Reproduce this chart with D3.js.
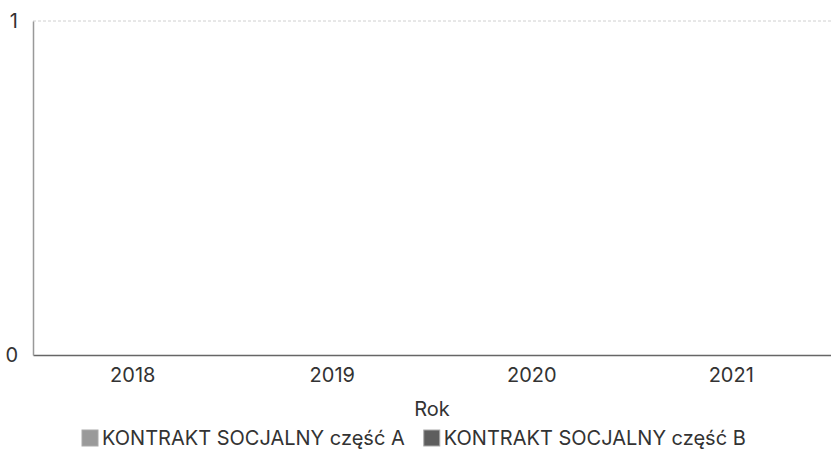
<!DOCTYPE html>
<html>
<head>
<meta charset="utf-8">
<script src="https://d3js.org/d3.v7.min.js"></script>
<style>
  body { margin: 0; background: #fff; }
  text { font-family: Inter, sans-serif; fill: #333; }
</style>
</head>
<body>
<svg id="chart" width="831" height="463"></svg>
<script>
// dane
var years = ["2018", "2019", "2020", "2021"];
var seriesNames = ["KONTRAKT SOCJALNY część A", "KONTRAKT SOCJALNY część B"];
var valuesA = [0, 0, 0, 0];
var valuesB = [0, 0, 0, 0];
var yTicks = [0, 1];
var colors = ["#9a9a9a", "#5e5e5e"];

var svg = d3.select("#chart");
var margin = { top: 21, right: 0, bottom: 108, left: 33 };
var width = +svg.attr("width") - margin.left - margin.right;
var height = +svg.attr("height") - margin.top - margin.bottom;

var g = svg.append("g")
  .attr("transform", "translate(" + margin.left + "," + margin.top + ")");

var x = d3.scaleBand().domain(years).range([0, width]).paddingInner(0.2).paddingOuter(0.1);
var x1 = d3.scaleBand().domain(seriesNames).range([0, x.bandwidth()]).padding(0.05);
var y = d3.scaleLinear().domain([0, 1]).range([height, 0]);

// linia siatki dla 1
g.append("line")
  .attr("x1", 0).attr("x2", width)
  .attr("y1", y(1)).attr("y2", y(1))
  .attr("stroke", "#d0d0d0")
  .attr("stroke-dasharray", "3,2");

// słupki (wartości zerowe)
var rows = years.map(function(yr, i) {
  return { year: yr, vals: [valuesA[i], valuesB[i]] };
});
g.selectAll("g.year")
  .data(rows)
  .enter().append("g")
  .attr("class", "year")
  .attr("transform", function(d) { return "translate(" + x(d.year) + ",0)"; })
  .selectAll("rect")
  .data(function(d) { return d.vals.map(function(v, i) { return { name: seriesNames[i], value: v, i: i }; }); })
  .enter().append("rect")
  .attr("x", function(d) { return x1(d.name); })
  .attr("y", function(d) { return y(d.value); })
  .attr("width", x1.bandwidth())
  .attr("height", function(d) { return height - y(d.value); })
  .attr("fill", function(d) { return colors[d.i]; });

// oś X
var xAxis = g.append("g")
  .attr("transform", "translate(0," + height + ")")
  .call(d3.axisBottom(x).tickSize(0).tickPadding(13));
xAxis.select(".domain").attr("stroke", "#666").attr("stroke-width", 1.5);
xAxis.selectAll("text").style("font-size", "20px").attr("fill", "#333");

// oś Y
var yAxis = g.append("g")
  .call(d3.axisLeft(y).tickValues(yTicks).tickFormat(d3.format("d")).tickSize(0).tickPadding(15));
yAxis.select(".domain").attr("stroke", "#999").attr("stroke-width", 1.5);
yAxis.selectAll("text").style("font-size", "20px").attr("fill", "#333");

// tytuł osi X
svg.append("text")
  .attr("x", margin.left + width / 2)
  .attr("y", 416)
  .attr("text-anchor", "middle")
  .style("font-size", "20px")
  .text("Rok");

// legenda
var legend = svg.append("g").attr("transform", "translate(82,430)");
var lx = 0;
seriesNames.forEach(function(name, i) {
  var item = legend.append("g").attr("transform", "translate(" + lx + ",0)");
  item.append("rect")
    .attr("width", 16).attr("height", 16)
    .attr("fill", colors[i])
    .attr("stroke", "#aaa");
  var t = item.append("text")
    .attr("x", 20).attr("y", 15)
    .style("font-size", "20px")
    .text(name);
  lx += 20 + t.node().getComputedTextLength() + 19;
});
</script>
</body>
</html>
